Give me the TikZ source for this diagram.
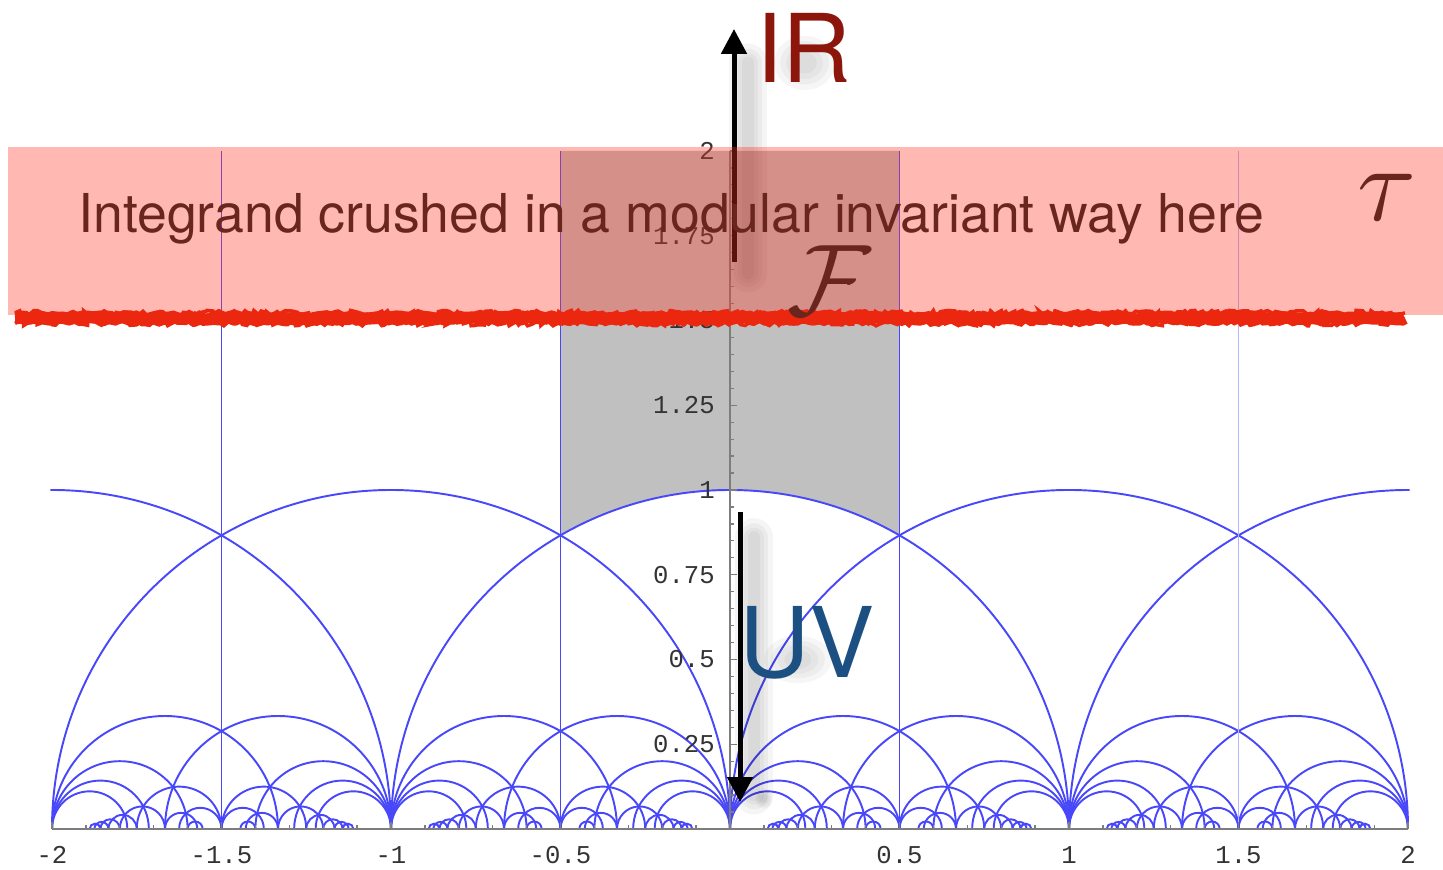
\documentclass[tikz,border=0pt]{standalone}
\usepackage{fontspec}
\setmainfont{TeX Gyre Heros}
\newfontfamily\monofont{Liberation Mono}
\usetikzlibrary{arrows.meta,decorations.pathmorphing}
\definecolor{fareyblue}{RGB}{72,72,250}
\definecolor{fdgray}{RGB}{192,192,192}
\definecolor{bandpink}{RGB}{255,55,35}
\definecolor{txtbrown}{RGB}{105,38,30}
\definecolor{irred}{RGB}{140,22,12}
\definecolor{uvblue}{RGB}{28,80,130}
\definecolor{scribred}{RGB}{235,40,15}
\definecolor{axisgray}{RGB}{125,125,125}
\begin{document}
\begin{tikzpicture}[x=6.78cm,y=6.78cm,
  farey/.style={draw=fareyblue,line width=1.1pt},
  tickmark/.style={draw=axisgray,line width=0.7pt},
  ylab/.style={font=\monofont\fontsize{14.6}{16}\selectfont,text=black!80,anchor=east,inner sep=0pt},
  xlab/.style={font=\monofont\fontsize{14.6}{16}\selectfont,text=black!80,anchor=center,inner sep=0pt},
  bigarrow/.style={line width=2.85pt,-{Triangle[width=0.5cm,length=0.5cm]}},
  shadowline/.style={line cap=round,draw=black,opacity=0.04},
  blob/.style={fill=black,opacity=0.035},
]
\useasboundingbox (-2.1534,-0.1209) rectangle (2.1032,2.4454);

% fundamental domain
\fill[fdgray] (-0.5,{sqrt(3)/2}) arc[start angle=120,end angle=60,radius=1] -- (0.5,2) -- (-0.5,2) -- cycle;

% tessellation: geodesics p/q -- r/s with ps - qr = -2
\begin{scope}
\clip (-2.005,0) rectangle (2.005,2.05);
\foreach \q in {1,...,9}{%
  \pgfmathtruncatemacro\pa{-3*\q}%
  \pgfmathtruncatemacro\pb{2*\q-1}%
  \foreach \p in {\pa,...,\pb}{%
    \foreach \s in {1,...,9}{%
      \edef\nn{\the\numexpr \p*\s+2\relax}%
      \edef\rr{\the\numexpr \nn/\q\relax}%
      \ifnum\numexpr\rr*\q\relax=\nn\relax
       \ifnum\rr>\numexpr-2*\s\relax
        \ifnum\rr<\numexpr3*\s+1\relax
          \def\ok{1}%
          \ifodd\numexpr\p\relax\else\ifodd\numexpr\q\relax\else\def\ok{0}\fi\fi
          \ifodd\numexpr\rr\relax\else\ifodd\numexpr\s\relax\else\def\ok{0}\fi\fi
          \ifnum\ok=1
            \pgfmathsetmacro\cc{(\p/\q+\rr/\s)/2}%
            \pgfmathsetmacro\RR{1/(\q*\s)}%
            \draw[farey] ({\cc+\RR},0) arc[start angle=0,end angle=180,radius=\RR];
          \fi
        \fi
       \fi
      \fi
    }%
  }%
}
\end{scope}
\draw[farey] (-1.5,0) -- (-1.5,2);
\draw[farey] (-0.5,0) -- (-0.5,2);
\draw[farey] (0.5,0) -- (0.5,2);
\draw[farey,draw=fareyblue!40] (1.5,0) -- (1.5,2);

% axes
\draw[draw=axisgray,line width=1.1pt] (-2,0) -- (2,0);
\draw[draw=axisgray,line width=0.6pt] (0,0) -- (0,2);
\foreach \t in {-20,...,20}{%
  \pgfmathtruncatemacro\m{mod(abs(\t),5)}%
  \ifnum\m=0 \draw[tickmark] (\t/10,0) -- ++(0,0.0206);
  \else \draw[tickmark] (\t/10,0) -- ++(0,0.0118); \fi
}
\foreach \t in {1,...,40}{%
  \pgfmathtruncatemacro\m{mod(\t,5)}%
  \ifnum\m=0 \draw[tickmark] (0,\t/20) -- ++(0.0206,0);
  \else \draw[tickmark] (0,\t/20) -- ++(0.0118,0); \fi
}
\foreach \v/\l in {2/2,1.75/1.75,1.5/1.5,1.25/1.25,1/1,0.75/0.75,0.5/0.5,0.25/0.25}{%
  \node[ylab] (yl\l) at (-0.044,\v) {\l};
}
\foreach \v/\l [count=\i] in {-2/-2,-1.5/-1.5,-1/-1,-0.5/-0.5,0.5/0.5,1/1,1.5/1.5,2/2}{%
  \node[xlab] (xl\i) at (\v,-0.077) {\l};
}

% soft shadows (blurred blobs)
\coordinate (uvS1) at (0.0708,0.86);
\coordinate (uvS2) at (0.0708,0.10);
\foreach \w in {22,16,11,7}{\draw[shadowline,line width=\w pt] (uvS1) -- (uvS2);}
\foreach \r in {1,0.8,0.6,0.4}{%
  \fill[blob] (0.10,0.09) ellipse[x radius=0.025*\r,y radius=0.03*\r];
  \fill[blob] (0.20,0.50) ellipse[x radius=0.10*\r,y radius=0.07*\r];
  \fill[blob] (0.22,2.26) ellipse[x radius=0.09*\r,y radius=0.08*\r];
}
\coordinate (irS1) at (0.053,2.26);
\coordinate (irS2) at (0.053,1.64);
\foreach \w in {22,16,11,7}{\draw[shadowline,line width=\w pt] (irS1) -- (irS2);}

% UV arrow
\coordinate (uvTop) at (0.0295,0.9351);
\coordinate (uvTip) at (0.0295,0.0796);
\draw[bigarrow] (uvTop) -- (uvTip);

% IR arrow
\coordinate (irBot) at (0.0118,1.6726);
\coordinate (irTip) at (0.0118,2.3599);
\draw[bigarrow] (irBot) -- (irTip);

% pink band
\fill[bandpink,opacity=0.35] (-2.1298,1.5162) rectangle (2.1032,2.0118);

% red scribble
\pgfmathsetseed{7}
\coordinate (scL) at (-2.109,1.507);
\coordinate (scR) at (1.991,1.507);
\draw[scribred,line width=7pt,decorate,decoration={random steps,segment length=3pt,amplitude=0.9pt}] (scL) -- (scR);
\draw[scribred,line width=2pt,decorate,decoration={random steps,segment length=2pt,amplitude=1.4pt}] ([yshift=-3pt]scL) -- ([yshift=-3pt]scR);
\draw[scribred,line width=2pt,decorate,decoration={random steps,segment length=2pt,amplitude=1.4pt}] ([yshift=3pt]scL) -- ([yshift=3pt]scR);

% band text
\node[anchor=base west,inner sep=0pt,font=\fontsize{30.5}{32}\selectfont,text=txtbrown] (bandtext) at (-1.923,1.761) {Integrand crushed in a modular invariant way here};
\node[inner sep=0pt,text=txtbrown] (tau) at (1.938,1.864) {\scalebox{6.1}{$\tau$}};
\node[inner sep=0pt,text=txtbrown] (calF) at (0.292,1.617) {\scalebox{5.8}{$\mathcal{F}$}};

% IR / UV labels
\node[anchor=base west,inner sep=0pt,font=\fontsize{54}{56}\selectfont,text=irred] (IR) at (0.0767,2.2006) {IR};
\node[anchor=base west,inner sep=0pt,font=\fontsize{55.5}{58}\selectfont,text=uvblue] (UV) at (0.027,0.448) {UV};
\end{tikzpicture}
\end{document}
